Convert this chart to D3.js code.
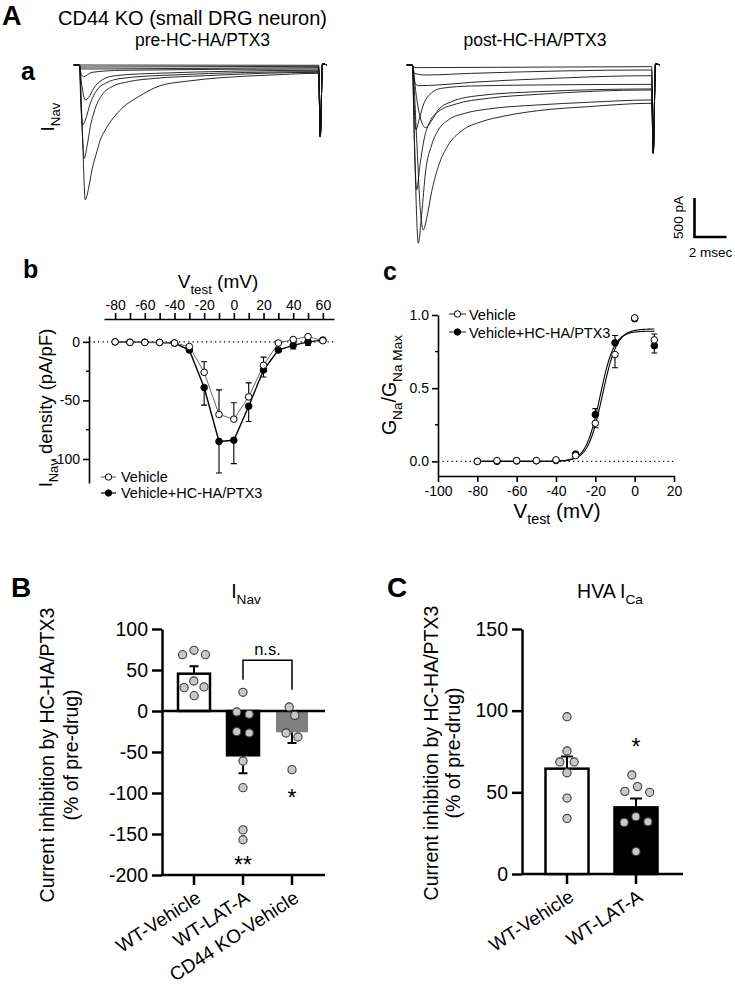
<!DOCTYPE html>
<html><head><meta charset="utf-8">
<script src="https://cdn.jsdelivr.net/npm/d3@7"></script>
<style>body{margin:0;background:#fff}svg{display:block}</style>
</head><body>
<svg id="fig" width="735" height="990"></svg>
<script>
// ================= DATA =================
// Panel A: current traces, [time (ms), current (pA)]
const preTraces = [
  [[0,0],[0.17,-726],[0.375,-1729],[0.58,-1580],[0.79,-1345],[1.10,-1110],[1.31,-961],[1.625,-833],[2.67,-555],[3.71,-406],[5.0,-269],[6.83,-205],[8.92,-162],[12.04,-128],[14.96,-107]],
  [[0,0],[0.17,-811],[0.31,-1196],[0.48,-1046],[0.69,-790],[1.0,-555],[1.42,-384],[2.04,-278],[3.08,-214],[4.75,-171],[7.875,-137],[14.96,-94]],
  [[0,0],[0.10,-512],[0.21,-769],[0.375,-705],[0.69,-491],[1.10,-320],[1.625,-235],[2.67,-171],[5.79,-128],[14.96,-85]],
  [[0,0],[0.17,-278],[0.375,-448],[0.58,-418],[0.9,-299],[1.42,-192],[2.25,-137],[4.75,-107],[14.96,-68]],
  [[0,0],[0.125,-120],[0.27,-149],[0.79,-94],[2.67,-68],[14.96,-51]],
  [[0,0],[0.125,-51],[0.79,-51],[14.96,-34]],
  [[0,0],[0.125,-26],[14.96,-17]],
  [[0,0],[14.96,-4]]
];
const postTraces = [
  [[0,0],[0.17,-1281],[0.375,-2284],[0.58,-1922],[0.83,-1366],[1.21,-1025],[1.625,-833],[2.25,-705],[3.29,-619],[4.75,-564],[7.875,-512],[11.0,-478],[14.96,-448]],
  [[0,0],[0.27,-939],[0.48,-1793],[0.69,-2114],[0.9,-1964],[1.21,-1623],[1.625,-1302],[2.25,-1025],[3.08,-845],[4.33,-726],[5.79,-653],[7.875,-585],[11.0,-534],[14.96,-491]],
  [[0,0],[0.125,-939],[0.27,-1601],[0.48,-1281],[0.75,-939],[1.10,-726],[1.625,-598],[2.67,-504],[4.75,-427],[7.875,-376],[14.96,-320]],
  [[0,0],[0.27,-427],[0.54,-705],[0.83,-803],[1.17,-726],[1.625,-576],[2.46,-470],[4.125,-393],[7.875,-342],[14.96,-307]],
  [[0,0],[0.125,-555],[0.23,-833],[0.42,-705],[0.69,-512],[1.10,-376],[1.83,-299],[3.71,-269],[7.875,-256],[14.96,-248]],
  [[0,0],[0.125,-213],[0.375,-265],[1.625,-256],[3.71,-222],[7.875,-179],[14.96,-137]],
  [[0,0],[0.125,-107],[0.79,-128],[3.71,-107],[14.96,-64]],
  [[0,0],[0.125,-34],[14.96,-21]]
];
const transientPeak = [-920, -1130];      // pre, post (pA)
const transientTail = [[15.06, null],[15.2, 15],[15.48, 0]];
const holdingStart = [-0.35, 0];

// Panel b: I-V relationship
const ivVoltage   = [-80,-70,-60,-50,-40,-30,-20,-10,0,10,20,30,40,50,60];
const ivVehicle   = [0,-0.5,-0.5,-0.5,-1,-4,-26,-62,-66,-47,-20,-1,2,4.5,1];
const ivVehicleSem= [0,0,0,0,0,0.5,9,21,14,12,7,1,1,1,0.5];
const ivDrug      = [0,-0.3,-0.3,-0.5,-1,-7,-39,-85,-84,-55,-24,-7,-3,0,1.5];
const ivDrugSem   = [0,0,0,0,0,1,15,27,20,13,6,1,3,3,1];

// Panel c: activation curve
const gvVoltage   = [-80,-70,-60,-50,-40,-30,-20,-10,0,10];
const gvVehicle   = [0,0.005,0.005,0.005,0.01,0.04,0.26,0.73,0.98,0.83];
const gvVehicleSem= [0,0,0,0,0,0.01,0.03,0.09,0,0.04];
const gvDrug      = [0,0,0.003,0.004,0.006,0.05,0.32,0.81,0.975,0.79];
const gvDrugSem   = [0,0,0,0,0,0.01,0.04,0.05,0,0.05];
const fitNames    = ["Vehicle","Vehicle+HC-HA/PTX3"];
const fitVHalf    = [-16.4, -17.6];
const fitSlope    = [3.7, 3.6];
const fitGMax     = [0.905, 0.89];
const fitRange    = [-80, 10];

// Panel B
const bCategories = ["WT-Vehicle","WT-LAT-A","CD44 KO-Vehicle"];
const bMeans = [45.5, -54, -26];
const bSem   = [9, 22, 13];
const bPoints = [
  [74,68.7,68.7,36.6,28.5,29.3,18.7],
  [22.8,-1.2,-4,-25.2,-26.8,-61,-93.5,-145,-157],
  [4.9,-5.3,-26.8,-31.7,-71.5]
];
const bStars = [["WT-LAT-A","**",-182],["CD44 KO-Vehicle","*",-100]];
const bBracket = {from:"WT-LAT-A", to:"CD44 KO-Vehicle", top:62, leftEnd:38, rightEnd:26, label:"n.s."};
const bTicks = [-200,-150,-100,-50,0,50,100];

// Panel C
const cCategories = ["WT-Vehicle","WT-LAT-A"];
const cMeans = [64.5, 40.8];
const cSem   = [7.5, 5.5];
const cPoints = [
  [96.3,75.3,68.6,68.6,62,46.5,34],
  [60.6,53.5,50,50.6,35.1,31.6,32,13.7]
];
const cStars = [["WT-LAT-A","*",81]];
const cTicks = [0,50,100,150];

// ================= DRAWING =================
const FONT = '"Liberation Sans", Arial, Helvetica, sans-serif';
const svg = d3.select("#fig").attr("font-family", FONT);

function rich(parent, parts, fs, x, y, anchor, rot) {
  const t = parent.append("text").attr("font-size", fs).attr("text-anchor", anchor || "start")
    .attr("transform", `translate(${x},${y})` + (rot ? ` rotate(${rot})` : ""));
  let shift = 0;
  parts.forEach(p => {
    const ts = t.append("tspan").text(p[0]);
    if (p[1]) { ts.attr("font-size", fs * 0.7).attr("dy", fs * 0.3 - shift); shift = fs * 0.3; }
    else if (shift) { ts.attr("dy", -shift); shift = 0; }
  });
  return t;
}
function label(txt, x, y, fs, opts = {}) {
  return svg.append("text").attr("x", x).attr("y", y).attr("font-size", fs)
    .attr("font-weight", opts.bold ? "bold" : null)
    .attr("text-anchor", opts.anchor || "start").text(txt);
}

// ---------- Panel A ----------
label("A", 2, 25, 27, {bold: true});
label("CD44 KO (small DRG neuron)", 58, 25, 20);
label("pre-HC-HA/PTX3", 202.5, 46, 17.5, {anchor: "middle"});
label("post-HC-HA/PTX3", 535, 46, 17.5, {anchor: "middle"});
label("a", 21, 80, 25, {bold: true});
rich(svg, [["I"],["Nav",1]], 19, 54, 117, "middle", -90);

const xPre = d3.scaleLinear().domain([0, 15]).range([79.3, 319.3]);
const xPost = d3.scaleLinear().domain([0, 15]).range([412.3, 652.3]);
const yTr = d3.scaleLinear().domain([0, -2300]).range([65, 65 + 2300 * 39 / 500]);

function drawTraces(traces, xs, peak) {
  const line = d3.line().x(d => xs(d[0])).y(d => yTr(d[1])).curve(d3.curveMonotoneX);
  const g = svg.append("g");
  traces.forEach(tr => {
    const pts = [holdingStart].concat(tr, transientTail.map(p => [p[0], p[1] === null ? peak : p[1]]));
    g.append("path").attr("d", line(pts)).attr("fill", "none")
      .attr("stroke", "#111").attr("stroke-width", 0.9).attr("stroke-linejoin", "round");
  });
}
drawTraces(preTraces, xPre, transientPeak[0]);
drawTraces(postTraces, xPost, transientPeak[1]);

// scale bar (500 pA, 2 ms)
{
  const x0 = 694.5, y0 = 237;
  const h = yTr(-500) - yTr(0), w = xPre(2) - xPre(0);
  svg.append("path").attr("d", `M${x0},${y0 - h}V${y0}H${x0 + w}`)
    .attr("fill", "none").attr("stroke", "#000").attr("stroke-width", 2.6);
  svg.append("text").attr("font-size", 13.5).attr("text-anchor", "middle")
    .attr("transform", `translate(683,${y0 - h / 2}) rotate(-90)`).text("500 pA");
  label("2 msec", x0 + 16, 257, 13.5, {anchor: "middle"});
}

// ---------- Panel b ----------
label("b", 23, 278, 25, {bold: true});
const xB = d3.scaleLinear().domain([-87.5, 67.5]).range([104, 334]);
const yB = d3.scaleLinear().domain([5, -120.5]).range([336, 483]);
{
  const g = svg.append("g");
  const top = g.append("g").attr("transform", "translate(0,319)")
    .call(d3.axisTop(xB).tickValues(d3.range(-80, 61, 10)).tickSize(6).tickSizeOuter(0).tickPadding(3)
      .tickFormat(d => d % 20 === 0 ? String(d) : ""));
  const left = g.append("g").attr("transform", "translate(89,0)")
    .call(d3.axisLeft(yB).tickValues([0, -50, -100]).tickSize(6).tickSizeOuter(0).tickPadding(3)
      .tickFormat(d => String(d)));
  [top, left].forEach(a => {
    a.attr("font-family", FONT).attr("font-size", 14);
    a.selectAll("path,line").attr("stroke-width", 1.6);
  });
  [-25, -75].forEach(v => g.append("line").attr("x1", 86).attr("x2", 89)
    .attr("y1", yB(v)).attr("y2", yB(v)).attr("stroke", "#000").attr("stroke-width", 1.4));
  g.append("line").attr("x1", 89).attr("x2", 336).attr("y1", yB(0)).attr("y2", yB(0))
    .attr("stroke", "#000").attr("stroke-width", 1.3).attr("stroke-dasharray", "1.3,3.2");

  const series = [
    {vals: ivDrug, sem: ivDrugSem, other: ivVehicle, fill: "#000", line: "#000", lw: 1.4},
    {vals: ivVehicle, sem: ivVehicleSem, other: ivDrug, fill: "#fff", line: "#666", lw: 1}
  ];
  const ln = d3.line().x((d, i) => xB(ivVoltage[i])).y(d => yB(d));
  series.forEach(s => g.append("path").attr("d", ln(s.vals)).attr("fill", "none")
    .attr("stroke", s.line).attr("stroke-width", s.lw));
  series.forEach(s => {
    s.vals.forEach((v, i) => {
      if (!s.sem[i]) return;
      const dir = v >= s.other[i] ? 1 : -1;
      const ye = yB(v + dir * s.sem[i]), x = xB(ivVoltage[i]);
      g.append("path").attr("d", `M${x},${yB(v)}V${ye}M${x - 3},${ye}H${x + 3}`)
        .attr("stroke", "#000").attr("stroke-width", 1.1).attr("fill", "none");
    });
  });
  series.forEach(s => g.selectAll(null).data(s.vals).join("circle")
    .attr("cx", (d, i) => xB(ivVoltage[i])).attr("cy", d => yB(d)).attr("r", 3.3)
    .attr("fill", s.fill).attr("stroke", "#000").attr("stroke-width", 1));

  rich(svg, [["V"],["test",1],[" (mV)"]], 19, 218, 288, "middle");
  rich(svg, [["I"],["Nav",1],[" density (pA/pF)"]], 18.5, 52, 408, "middle", -90);

  // legend
  [["Vehicle", "#fff", "#666", 477], ["Vehicle+HC-HA/PTX3", "#000", "#000", 493]].forEach(l => {
    g.append("line").attr("x1", 101).attr("x2", 116).attr("y1", l[3]).attr("y2", l[3])
      .attr("stroke", l[2]).attr("stroke-width", 1.2);
    g.append("circle").attr("cx", 108.5).attr("cy", l[3]).attr("r", 3.2)
      .attr("fill", l[1]).attr("stroke", "#000");
    label(l[0], 121, l[3] + 5, 14.5);
  });
}

// ---------- Panel c ----------
label("c", 383, 280, 25, {bold: true});
const xC = d3.scaleLinear().domain([-100, 20]).range([438, 674]);
const yC = d3.scaleLinear().domain([-0.1, 1.0]).range([476, 315]);
{
  const g = svg.append("g");
  const bottom = g.append("g").attr("transform", "translate(0,476)")
    .call(d3.axisBottom(xC).tickValues(d3.range(-100, 21, 20)).tickSize(6).tickSizeOuter(0).tickPadding(4)
      .tickFormat(d => String(d)));
  const left = g.append("g").attr("transform", "translate(438,0)")
    .call(d3.axisLeft(yC).tickValues([0, 0.5, 1]).tickSize(6).tickSizeOuter(0).tickPadding(3)
      .tickFormat(d3.format(".1f")));
  [bottom, left].forEach(a => {
    a.attr("font-family", FONT).attr("font-size", 14);
    a.selectAll("path,line").attr("stroke-width", 1.6);
  });
  [0.25, 0.75].forEach(v => g.append("line").attr("x1", 435).attr("x2", 438)
    .attr("y1", yC(v)).attr("y2", yC(v)).attr("stroke", "#000").attr("stroke-width", 1.4));
  g.append("line").attr("x1", 438).attr("x2", 674).attr("y1", yC(0)).attr("y2", yC(0))
    .attr("stroke", "#000").attr("stroke-width", 1.3).attr("stroke-dasharray", "1.3,3.2");

  // Boltzmann fits
  const vs = d3.range(fitRange[0], fitRange[1] + 0.01, 0.25);
  fitNames.forEach((n, k) => {
    const f = v => fitGMax[k] / (1 + Math.exp((fitVHalf[k] - v) / fitSlope[k]));
    g.append("path").attr("d", d3.line().x(v => xC(v)).y(v => yC(f(v)))(vs))
      .attr("fill", "none").attr("stroke", "#000").attr("stroke-width", 1.1);
  });
  const series = [
    {vals: gvDrug, sem: gvDrugSem, other: gvVehicle, fill: "#000"},
    {vals: gvVehicle, sem: gvVehicleSem, other: gvDrug, fill: "#fff"}
  ];
  series.forEach(s => {
    s.vals.forEach((v, i) => {
      if (!s.sem[i]) return;
      const dir = v >= s.other[i] ? 1 : -1;
      const ye = yC(v + dir * s.sem[i]), x = xC(gvVoltage[i]);
      g.append("path").attr("d", `M${x},${yC(v)}V${ye}M${x - 3},${ye}H${x + 3}`)
        .attr("stroke", "#000").attr("stroke-width", 1.1).attr("fill", "none");
    });
  });
  series.forEach(s => g.selectAll(null).data(s.vals).join("circle")
    .attr("cx", (d, i) => xC(gvVoltage[i])).attr("cy", d => yC(d)).attr("r", 3.3)
    .attr("fill", s.fill).attr("stroke", "#000").attr("stroke-width", 1));

  rich(svg, [["V"],["test",1],[" (mV)"]], 20.5, 557, 518, "middle");
  rich(svg, [["G"],["Na",1],["/G"],["Na Max",1]], 19.5, 396, 385, "middle", -90);

  [["Vehicle", "#fff", 314], ["Vehicle+HC-HA/PTX3", "#000", 332]].forEach(l => {
    g.append("line").attr("x1", 449).attr("x2", 466).attr("y1", l[2]).attr("y2", l[2])
      .attr("stroke", "#444").attr("stroke-width", 1.2);
    g.append("circle").attr("cx", 457.5).attr("cy", l[2]).attr("r", 3.2)
      .attr("fill", l[1]).attr("stroke", "#000");
    label(l[0], 469, l[2] + 5.5, 14.5);
  });
}

// ---------- Bar panels ----------
function swarm(values, ys, cx, r) {
  const nodes = values.map(v => ({v, x: cx, y: ys(v), ty: ys(v)}));
  const sim = d3.forceSimulation(nodes)
    .force("x", d3.forceX(cx).strength(0.06))
    .force("y", d3.forceY(d => d.ty).strength(1))
    .force("c", d3.forceCollide(r)).stop();
  for (let i = 0; i < 250; i++) sim.tick();
  nodes.forEach(n => n.y = n.ty);
  return nodes;
}

function barPanel(cfg) {
  const g = svg.append("g");
  const ys = d3.scaleLinear().domain(cfg.domain).range(cfg.yRange);
  const xs = d3.scalePoint().domain(cfg.cats).range(cfg.xRange);
  const ax = g.append("g").attr("transform", `translate(${cfg.axisX},0)`)
    .call(d3.axisLeft(ys).tickValues(cfg.ticks).tickSize(10).tickSizeOuter(0).tickPadding(4)
      .tickFormat(d => String(d)));
  ax.attr("font-family", FONT).attr("font-size", 19.5);
  ax.selectAll("path,line").attr("stroke-width", 2.5);
  ax.selectAll("text").attr("fill", "#000");
  // bottom axis line with ticks
  const yb = ys(cfg.domain[0]);
  g.append("line").attr("x1", cfg.axisX).attr("x2", cfg.axisEnd).attr("y1", yb).attr("y2", yb)
    .attr("stroke", "#000").attr("stroke-width", 2.5);
  cfg.cats.forEach(c => g.append("line").attr("x1", xs(c)).attr("x2", xs(c))
    .attr("y1", yb).attr("y2", yb + 10).attr("stroke", "#000").attr("stroke-width", 2.5));
  cfg.cats.forEach(c => svg.append("text").attr("font-size", 19).attr("text-anchor", "end")
    .attr("transform", `translate(${xs(c) + 8},${yb + 26}) rotate(-33)`).text(c));
  // bars
  cfg.cats.forEach((c, i) => {
    const m = cfg.means[i], y0 = ys(0), y1 = ys(m);
    const dir = m >= 0 ? 1 : -1;
    const ye = ys(m + dir * cfg.sem[i]);
    g.append("path").attr("d", `M${xs(c)},${y1}V${ye}M${xs(c) - cfg.cap},${ye}H${xs(c) + cfg.cap}`)
      .attr("stroke", "#000").attr("stroke-width", 2).attr("fill", "none");
    g.append("rect").attr("x", xs(c) - cfg.bw / 2).attr("width", cfg.bw)
      .attr("y", Math.min(y0, y1)).attr("height", Math.abs(y1 - y0))
      .attr("fill", cfg.fills[i]).attr("stroke", cfg.strokes[i]).attr("stroke-width", 2.5);
  });
  // zero line (if inside)
  if (cfg.domain[0] < 0) g.append("line").attr("x1", cfg.axisX).attr("x2", cfg.axisEnd)
    .attr("y1", ys(0)).attr("y2", ys(0)).attr("stroke", "#000").attr("stroke-width", 2.5);
  // points
  cfg.cats.forEach((c, i) => {
    swarm(cfg.points[i], ys, xs(c), cfg.swarmR).forEach(n => g.append("circle")
      .attr("cx", n.x).attr("cy", n.y).attr("r", 4.1)
      .attr("fill", "#c8c8c8").attr("stroke", "#3c3c3c").attr("stroke-width", 1.1));
  });
  // stars
  cfg.stars.forEach(s => g.append("text").attr("x", xs(s[0])).attr("y", ys(s[2]) + 13)
    .attr("font-size", 23).attr("text-anchor", "middle").text(s[1]));
  return {xs, ys, g};
}

// Panel B
label("B", 11, 597, 28, {bold: true});
rich(svg, [["I"],["Nav",1]], 19.5, 246, 598, "middle");
const pB = barPanel({
  cats: bCategories, means: bMeans, sem: bSem, points: bPoints, stars: bStars,
  domain: [-200, 100], yRange: [875, 629], xRange: [194, 292], ticks: bTicks,
  axisX: 162, axisEnd: 325, bw: 32, cap: 4.5, swarmR: 6.3,
  fills: ["#fff", "#000", "#808080"], strokes: ["#000", "#000", "none"]
});
{
  const {xs, ys, g} = pB;
  const b = bBracket;
  g.append("path").attr("d", `M${xs(b.from)},${ys(b.leftEnd)}V${ys(b.top)}H${xs(b.to)}V${ys(b.rightEnd)}`)
    .attr("fill", "none").attr("stroke", "#000").attr("stroke-width", 1.5);
  label(b.label, (xs(b.from) + xs(b.to)) / 2, ys(b.top) - 5, 16.5, {anchor: "middle"});
}
[["Current inhibition by HC-HA/PTX3", 54], ["(% of pre-drug)", 78]].forEach(l =>
  svg.append("text").attr("font-size", 19.5).attr("text-anchor", "middle")
    .attr("transform", `translate(${l[1]},755) rotate(-90)`).text(l[0]));

// Panel C
label("C", 387, 597, 28, {bold: true});
rich(svg, [["HVA I"],["Ca",1]], 19.5, 610, 598, "middle");
barPanel({
  cats: cCategories, means: cMeans, sem: cSem, points: cPoints, stars: cStars,
  domain: [0, 150], yRange: [874, 629], xRange: [567, 636], ticks: cTicks,
  axisX: 522, axisEnd: 683, bw: 43, cap: 6, swarmR: 6.8,
  fills: ["#fff", "#000"], strokes: ["#000", "#000"]
});
[["Current inhibition by HC-HA/PTX3", 438], ["(% of pre-drug)", 460]].forEach(l =>
  svg.append("text").attr("font-size", 19.5).attr("text-anchor", "middle")
    .attr("transform", `translate(${l[1]},753) rotate(-90)`).text(l[0]));
</script>
</body></html>
